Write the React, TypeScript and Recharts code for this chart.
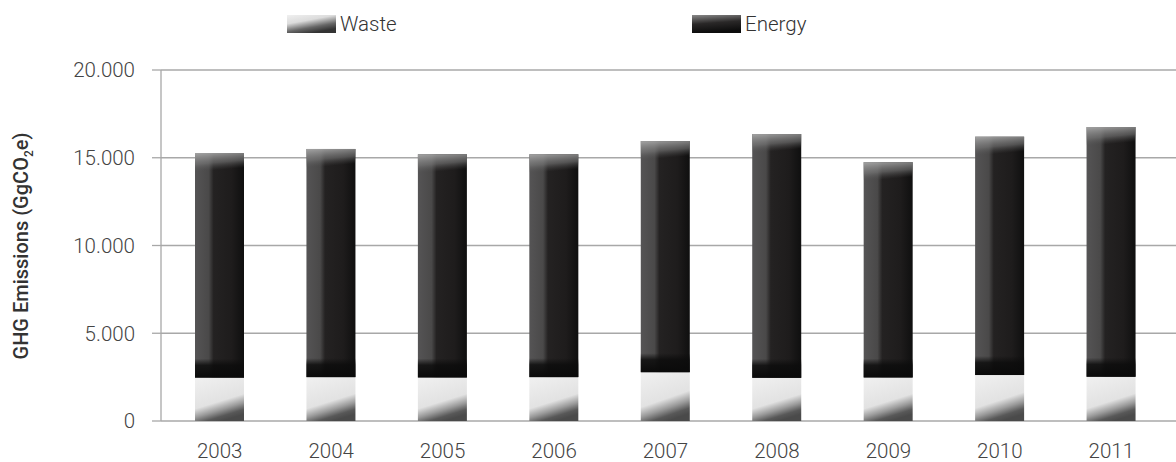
import React from 'react';
import { BarChart, Bar, XAxis, YAxis, CartesianGrid, Legend } from 'recharts';

const years = ['2003', '2004', '2005', '2006', '2007', '2008', '2009', '2010', '2011'];
const waste = [2470, 2500, 2480, 2500, 2780, 2460, 2480, 2620, 2520];
const energy = [12800, 13000, 12720, 12700, 13170, 13890, 12270, 13580, 14230];
const yTicks = [0, 5000, 10000, 15000, 20000];

const data = years.map((year, i) => ({ year, waste: waste[i], energy: energy[i] }));

const fmt = (v: number) => (v === 0 ? '0' : v.toLocaleString('de-DE'));

const tickStyle = { fill: '#444', fontSize: 20.5, fontWeight: 300, fontFamily: 'Roboto, sans-serif' };

function EnergyShape(props: any) {
  const { x, y, width, height } = props;
  if (!height || height <= 0) return null;
  const cap = Math.min(18, height);
  return (
    <g>
      <rect x={x} y={y} width={width} height={height} fill="url(#energyH)" />
      <rect x={x} y={y} width={width} height={cap} fill="url(#energyTop)" />
      <rect x={x} y={y + height - 19} width={width} height={19} fill="url(#energyBottom)" />
    </g>
  );
}

function WasteShape(props: any) {
  const { x, y, width, height } = props;
  if (!height || height <= 0) return null;
  return <rect x={x} y={y} width={width} height={height} fill="url(#wasteFill)" />;
}

function renderLegend() {
  const item = (label: string, fill: string, left: number) => (
    <div style={{ position: 'absolute', left, top: 0, display: 'flex', alignItems: 'center' }}>
      <svg width={49} height={18} style={{ display: 'block' }}>
        <rect x={0} y={0} width={49} height={18} fill={fill} />
      </svg>
      <span style={{ marginLeft: 4, fontSize: 20.5, fontWeight: 300, color: '#333', lineHeight: '18px' }}>{label}</span>
    </div>
  );
  return (
    <div style={{ position: 'relative', width: 1176, height: 40, fontFamily: 'Roboto, sans-serif' }}>
      <svg width={0} height={0} style={{ position: 'absolute' }}>
        <defs>
          <linearGradient id="legWaste" x1="0" y1="0" x2="0.5" y2="1">
            <stop offset="0" stopColor="#f0f0f0" />
            <stop offset="0.4" stopColor="#dcdcdc" />
            <stop offset="0.75" stopColor="#666" />
            <stop offset="1" stopColor="#333" />
          </linearGradient>
          <linearGradient id="legEnergy" x1="0" y1="0" x2="0.2" y2="1">
            <stop offset="0" stopColor="#8a8a8a" />
            <stop offset="0.5" stopColor="#2a2828" />
            <stop offset="1" stopColor="#0c0c0c" />
          </linearGradient>
        </defs>
      </svg>
      {item('Waste', 'url(#legWaste)', 287)}
      {item('Energy', 'url(#legEnergy)', 692)}
    </div>
  );
}

function YLabel() {
  const cx = 28;
  const cy = 246;
  return (
    <text
      x={cx}
      y={cy}
      transform={`rotate(-90, ${cx}, ${cy})`}
      textAnchor="middle"
      fill="#333"
      fontSize={20}
      fontWeight={500}
      fontFamily="Roboto, sans-serif"
    >
      GHG Emissions (GgCO<tspan fontSize={12} dy={5}>2</tspan>
      <tspan dy={-5}>e)</tspan>
    </text>
  );
}

export default function App() {
  return (
    <div style={{ position: 'absolute', left: 0, top: 0, width: 1176, height: 462, background: '#fff' }}>
      <BarChart
        width={1176}
        height={462}
        data={data}
        margin={{ top: 30, right: 0, bottom: 0, left: 0 }}
        barCategoryGap={0}
      >
        <defs>
          <linearGradient id="energyH" x1="0" y1="0" x2="1" y2="0">
            <stop offset="0" stopColor="#555455" />
            <stop offset="0.28" stopColor="#4a4949" />
            <stop offset="0.38" stopColor="#242222" />
            <stop offset="0.75" stopColor="#1e1c1c" />
            <stop offset="1" stopColor="#0f0f0f" />
          </linearGradient>
          <linearGradient id="energyTop" x1="0" y1="0" x2="0.25" y2="1">
            <stop offset="0" stopColor="#a4a4a4" stopOpacity={1} />
            <stop offset="0.6" stopColor="#7a7a7a" stopOpacity={0.6} />
            <stop offset="1" stopColor="#555" stopOpacity={0} />
          </linearGradient>
          <linearGradient id="energyBottom" x1="0" y1="0" x2="0" y2="1">
            <stop offset="0" stopColor="#0c0c0c" stopOpacity={0} />
            <stop offset="0.35" stopColor="#0c0c0c" stopOpacity={0.85} />
            <stop offset="1" stopColor="#0a0a0a" stopOpacity={1} />
          </linearGradient>
          <linearGradient id="wasteFill" x1="0.2" y1="0" x2="0.55" y2="1">
            <stop offset="0" stopColor="#efefef" />
            <stop offset="0.58" stopColor="#e2e2e2" />
            <stop offset="0.76" stopColor="#9a9a9a" />
            <stop offset="0.9" stopColor="#585858" />
            <stop offset="1" stopColor="#4a4a4a" />
          </linearGradient>
        </defs>
        <Legend verticalAlign="top" height={40} content={renderLegend} wrapperStyle={{ top: 15, left: 0 }} />
        <CartesianGrid vertical={false} stroke="#a8a8a8" strokeWidth={1.3} />
        <XAxis
          dataKey="year"
          axisLine={false}
          tickLine={false}
          tickMargin={16}
          height={41}
          padding={{ left: 3, right: 9 }}
          tick={tickStyle}
        />
        <YAxis
          width={161}
          domain={[0, 20000]}
          ticks={yTicks}
          tickFormatter={fmt}
          stroke="#a8a8a8"
          strokeWidth={1.3}
          tickSize={9}
          tickMargin={17}
          tick={tickStyle}
          label={<YLabel />}
        />
        <Bar dataKey="waste" name="Waste" stackId="a" barSize={49} shape={<WasteShape />} isAnimationActive={false} />
        <Bar dataKey="energy" name="Energy" stackId="a" barSize={49} shape={<EnergyShape />} isAnimationActive={false} />
      </BarChart>
    </div>
  );
}
